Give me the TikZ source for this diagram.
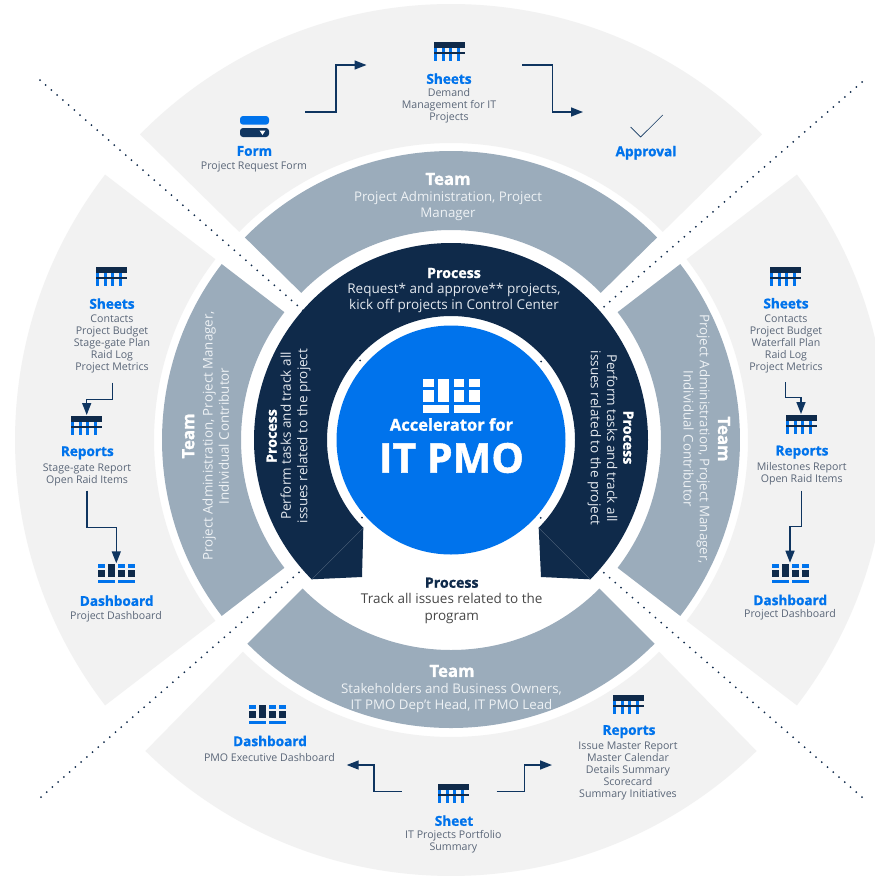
\documentclass[tikz,border=0pt]{standalone}
\usepackage{fontspec}
\setmainfont{Open Sans}[BoldFeatures={FakeBold=1.2}]
\usetikzlibrary{arrows.meta}
\definecolor{sectgray}{HTML}{F2F2F2}
\definecolor{teamgray}{HTML}{9BACBB}
\definecolor{navy}{HTML}{0F2A4A}
\definecolor{flownavy}{HTML}{0F3560}
\definecolor{brandblue}{HTML}{0073EC}
\definecolor{bodygray}{HTML}{5A6678}
\definecolor{teamtxt}{HTML}{EEF2F5}
\definecolor{darktxt}{HTML}{E4E9EF}
\newcommand{\annsect}[5]{\fill[#1] (#2:#4) arc[start angle=#2,end angle=#3,radius=#4 pt] -- (#3:#5) arc[start angle=#3,end angle=#2,radius=#5 pt] -- cycle;}
\newcommand{\sheeticon}[2]{\begin{scope}[shift={(#1,-#2)}]
  \foreach \cx in {0,7.7,15.3,23}{\fill[brandblue] (\cx,-5) rectangle ++(3,-14);}
  \fill[navy] (0,0) rectangle (31,-6);
  \fill[navy] (0,-9.7) rectangle (31,-12);
\end{scope}}
\newcommand{\dashicon}[2]{\begin{scope}[shift={(#1,-#2)}]
  \foreach \cx in {0,20,30}{\fill[brandblue] (\cx,0) rectangle ++(7.3,-4);\fill[navy] (\cx,-6.3) rectangle ++(7.3,-7);}
  \fill[navy] (10,0) rectangle ++(7.3,-13.3);
  \fill[brandblue] (0,-16) rectangle (17.3,-19.3);
  \fill[brandblue] (20,-16) rectangle (37.3,-19.3);
\end{scope}}
\tikzset{
  x=1pt,y=1pt,
  flow/.style={draw=flownavy,line width=1.5pt,-{Triangle[length=12pt,width=9pt]}},
  dots/.style={draw=navy,line width=2pt,line cap=round,dash pattern=on 0pt off 7.6pt},
  seam/.style={draw=navy!72!white,line width=0.35pt},
  ttl/.style={font=\fontsize{13.6}{15}\selectfont\bfseries,text=brandblue,inner sep=0pt},
  body/.style={font=\fontsize{10.6}{12}\selectfont,text=bodygray,align=center,inner sep=0pt,yshift=-1.2pt},
  teamttl/.style={font=\fontsize{16.8}{18}\selectfont\bfseries,text=white,inner sep=0pt},
  teambody/.style={font=\fontsize{13.3}{16.3}\selectfont,text=teamtxt,align=center,inner sep=0pt},
  procttl/.style={font=\fontsize{14.2}{15}\selectfont\bfseries,text=white,inner sep=0pt},
  procbody/.style={font=\fontsize{13.5}{16.3}\selectfont,text=darktxt,align=center,inner sep=0pt},
}
\begin{document}
\begin{tikzpicture}
\path[use as bounding box,clip] (0,0) rectangle (875,-876);
\fill[white] (0,0) rectangle (875,-876);
\begin{scope}[shift={(451,-440)}]
  % outer sectors
  \annsect{sectgray}{44.5}{135.5}{436}{297}
  \annsect{sectgray}{142.5}{217.5}{436}{297}
  \annsect{sectgray}{225.5}{314.5}{436}{297}
  \annsect{sectgray}{-37.5}{37.5}{436}{297}
  % team ring
  \annsect{teamgray}{44.5}{135.5}{289}{210}
  \annsect{teamgray}{142.5}{217.5}{289}{210}
  \annsect{teamgray}{225}{315}{288}{210}
  \annsect{teamgray}{-37.5}{37.5}{289}{210}
\end{scope}
% dotted dividers
\coordinate (hub) at (451,-440);
\coordinate (dotTL) at (40,-80);
\coordinate (dotTR) at (862,-82);
\coordinate (dotBL) at (41,-797);
\coordinate (dotBR) at (862,-797);
\draw[dots] (dotTL) -- (hub);
\draw[dots] (dotTR) -- (hub);
\draw[dots] (dotBL) -- (hub);
\draw[dots] (dotBR) -- (hub);
% process band and hub
\begin{scope}[shift={(451,-440)}]
  \fill[navy] (225:197pt) arc[start angle=225,end angle=-45,radius=197pt]
     -- (90,-137) -- (-45:124pt) arc[start angle=-45,end angle=225,radius=124pt]
     -- (-89,-137) -- cycle;
  \draw[seam] (225:197pt) -- (225:124pt);
  \draw[seam] (-45:197pt) -- (-45:124pt);
  \fill[brandblue] (0,0) circle[radius=114.5pt];
  % centre icon
  \begin{scope}[shift={(-27.7,60.7)},white]
    \foreach \cx in {0,30.4,46}{\fill (\cx,0) rectangle ++(10.7,-7.7);\fill (\cx,-11) rectangle ++(10.7,-11.7);}
    \fill (15,0) rectangle ++(11,-22.7);
    \fill (0,-26) rectangle (26,-33.4);
    \fill (30.4,-26) rectangle (56.7,-33.4);
  \end{scope}
\end{scope}
\node[font=\fontsize{16.5}{17}\selectfont\bfseries,text=white,inner sep=0pt] (accel) at (451.5,-424.5) {Accelerator for};
\node[font=\fontsize{41}{43}\selectfont\bfseries,text=white,inner sep=0pt] (itpmo) at (451.5,-458) {IT PMO};
% team labels
\node[teamttl] (teamT) at (448,-179) {Team};
\node[teambody] (teamTb) at (448,-206.2) {Project Administration, Project\\Manager};
\node[teamttl] (teamB) at (452,-671) {Team};
\node[teambody] (teamBb) at (451.5,-698) {Stakeholders and Business Owners,\\IT PMO Dep't Head, IT PMO Lead};
\node[teamttl,rotate=90] (teamL) at (188.3,-436) {Team};
\node[teambody,rotate=90] (teamLb) at (215.7,-436) {Project Administration, Project Manager,\\Individual Contributor};
\node[teamttl,rotate=-90] (teamR) at (724,-439) {Team};
\node[teambody,rotate=-90] (teamRb) at (696.7,-439) {Project Administration, Project Manager,\\Individual Contributor};
% process labels
\node[procttl] (procT) at (454,-273) {Process};
\node[procbody] (procTb) at (454,-298.2) {Request* and approve** projects,\\kick off projects in Control Center};
\node[procttl,rotate=90] (procL) at (271.7,-436) {Process};
\node[procbody,rotate=90] (procLb) at (295.6,-436) {Perform tasks and track all\\issues related to the project};
\node[procttl,rotate=-90] (procR) at (628.3,-437.5) {Process};
\node[procbody,rotate=-90] (procRb) at (602.5,-438) {Perform tasks and track all\\issues related to the project};
\node[procttl,text=navy] (procB) at (451.7,-582.7) {Process};
\node[procbody,text=black!72] (procBb) at (451.7,-608.5) {Track all issues related to the\\program};
% top sector
\fill[brandblue,rounded corners=3pt] (240,-116) rectangle (269,-124.7);
\fill[flownavy,rounded corners=3pt] (240,-128) rectangle (269,-137);
\fill[white] (259.7,-130.7) -- (265.3,-130.7) -- (262.5,-135) -- cycle;
\node[ttl] (formT) at (254.4,-151) {Form};
\node[body] (formB) at (254,-166) {Project Request Form};
\sheeticon{434}{42}
\node[ttl] (sheetT) at (449,-78.7) {Sheets};
\node[body] (sheetB) at (449,-105) {Demand\\Management for IT\\Projects};
\coordinate (checkA) at (630.6,-127);
\coordinate (checkB) at (640.6,-137);
\coordinate (checkC) at (662.8,-115);
\draw[flownavy,line width=0.6pt] (checkA) -- (checkB) -- (checkC);
\node[ttl] (apprT) at (646,-152.7) {Approval};
\coordinate (fa) at (305,-112);
\coordinate (fb) at (366.5,-65);
\draw[flow] (fa) -- ++(31,0) |- (fb);
\coordinate (sa) at (522,-65);
\coordinate (sb) at (583,-112);
\draw[flow] (sa) -- ++(30.5,0) |- (sb);
% left sector
\sheeticon{96}{267}
\node[ttl] (lsT) at (112,-303.6) {Sheets};
\node[body] (lsB) at (112,-342.3) {Contacts\\Project Budget\\Stage-gate Plan\\Raid Log\\Project Metrics};
\sheeticon{71}{416}
\node[ttl] (lrT) at (87.3,-452.8) {Reports};
\node[body] (lrB) at (87,-473.3) {Stage-gate Report\\Open Raid Items};
\dashicon{98}{564}
\node[ttl] (ldT) at (116.7,-600.7) {Dashboard};
\node[body] (ldB) at (116,-615.3) {Project Dashboard};
\coordinate (la) at (112.3,-382.7);
\coordinate (lb) at (86.7,-415);
\draw[flow] (la) -- ++(0,-16.6) -| (lb);
\coordinate (lc) at (87,-490.7);
\coordinate (ld) at (116.3,-563.3);
\draw[flow] (lc) -- ++(0,-36.6) -| (ld);
% right sector
\sheeticon{770}{267}
\node[ttl] (rsT) at (786,-303.3) {Sheets};
\node[body] (rsB) at (786,-342.3) {Contacts\\Project Budget\\Waterfall Plan\\Raid Log\\Project Metrics};
\sheeticon{786}{415}
\node[ttl] (rrT) at (802,-452.2) {Reports};
\node[body] (rrB) at (801.7,-472.3) {Milestones Report\\Open Raid Items};
\dashicon{772}{563.5}
\node[ttl] (rdT) at (790.3,-600) {Dashboard};
\node[body] (rdB) at (790,-614) {Project Dashboard};
\coordinate (ra) at (785.3,-382.3);
\coordinate (rb) at (801,-414);
\draw[flow] (ra) -- ++(0,-15.4) -| (rb);
\coordinate (rc) at (801.7,-490.7);
\coordinate (rd) at (790,-562.7);
\draw[flow] (rc) -- ++(0,-36) -| (rd);
% bottom sector
\dashicon{249}{705}
\node[ttl] (bdT) at (270,-741) {Dashboard};
\node[body] (bdB) at (269.4,-756) {PMO Executive Dashboard};
\sheeticon{438}{784}
\node[ttl] (bsT) at (454,-820.7) {Sheet};
\node[body] (bsB) at (453.4,-841) {IT Projects Portfolio\\Summary};
\sheeticon{613}{695}
\node[ttl] (brT) at (629,-731.6) {Reports};
\node[body] (brB) at (628,-770) {Issue Master Report\\Master Calendar\\Details Summary\\Scorecard\\Summary Initiatives};
\coordinate (ba) at (401.8,-791.3);
\coordinate (bb) at (346.7,-765);
\draw[flow] (ba) -- ++(-28,0) |- (bb);
\coordinate (bc) at (496.7,-791.3);
\coordinate (bd) at (552,-765);
\draw[flow] (bc) -- ++(28,0) |- (bd);
\end{tikzpicture}
\end{document}
